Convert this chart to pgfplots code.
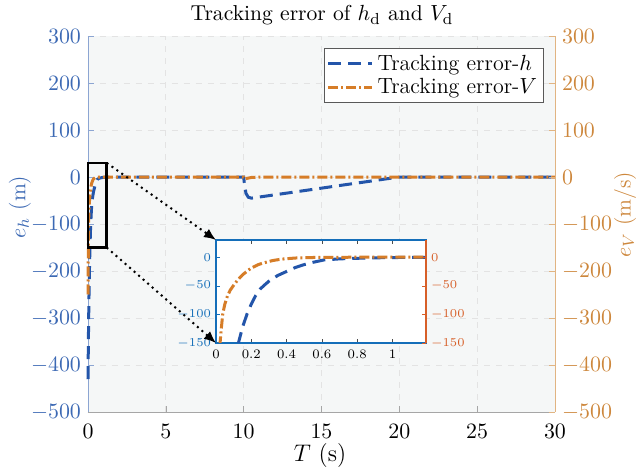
\documentclass[border=0pt]{standalone}
\usepackage{pgfplots}
\usepackage{pgfplotstable}
\pgfplotsset{compat=1.18}
\usetikzlibrary{arrows.meta}

\definecolor{hblue}{RGB}{35,85,170}
\definecolor{vorange}{RGB}{214,125,40}
\definecolor{lefttick}{RGB}{60,105,180}
\definecolor{righttick}{RGB}{205,135,60}
\definecolor{leftline}{RGB}{140,165,210}
\definecolor{rightline}{RGB}{225,180,130}
\definecolor{bgc}{RGB}{245,247,247}
\definecolor{insblue}{RGB}{20,110,185}
\definecolor{insorange}{RGB}{215,95,40}

% altitude tracking error e_h (m)
\pgfplotstableread{
t eh
0 -430
0.02 -364
0.04 -308
0.06 -261
0.08 -221
0.10 -187
0.127 -150
0.15 -123
0.175 -100
0.2 -82
0.225 -67
0.25 -56
0.27 -50
0.3 -42
0.35 -32
0.4 -25
0.45 -18
0.5 -13
0.55 -9
0.61 -5
0.7 -3
0.8 -2
0.9 -1.2
1.0 -0.7
1.1 -0.4
1.2 -0.2
1.5 0
10 0
10.05 -15
10.15 -35
10.3 -43
10.5 -45
11 -42.6
12 -37.9
13 -33.2
14 -28.4
15 -23.7
16 -18.9
17 -14.2
18 -9.5
19 -4.7
20 0
30 0
}\ehdata

% velocity tracking error e_V (m/s)
\pgfplotstableread{
t ev
0 -250
0.01 -205
0.023 -150
0.03 -125
0.038 -100
0.05 -82
0.065 -68
0.08 -58
0.098 -50
0.12 -41
0.15 -31
0.174 -25
0.2 -19
0.24 -13
0.27 -10
0.32 -6
0.37 -3.5
0.45 -1.5
0.55 -0.6
0.7 -0.2
1 0
10 0
10.05 -4
10.2 -3
10.5 -1
11 0
30 0
}\evdata

\tikzset{
  hstyle/.style={hblue, line width=1.5pt, dash pattern=on 6.5pt off 3.5pt},
  vstyle/.style={vorange, line width=1.5pt, dash pattern=on 5pt off 1.5pt on 1pt off 1.5pt},
}

\begin{document}
\begin{tikzpicture}
\useasboundingbox (-44pt,-31.5pt) rectangle (275pt,206pt);

% main axis, left scale
\begin{axis}[
  at={(0,0)}, anchor=south west,
  scale only axis, width=233.5pt, height=188pt,
  xmin=0, xmax=30, ymin=-500, ymax=300,
  xtick={0,5,...,30}, ytick={-500,-400,...,300},
  axis x line*=bottom, axis y line*=left,
  tick align=inside, major tick length=3pt,
  x axis line style={gray!70}, y axis line style={leftline},
  xtick style={gray!70}, ytick style={leftline},
  tick label style={font=\fontsize{10.5}{12}\selectfont},
  yticklabel style={lefttick},
  xticklabel style={black, inner sep=0pt, yshift=-6pt},
  grid=major, grid style={dashed, gray!22, line width=0.4pt},
  axis background/.style={fill=bgc},
  clip=false,
  title={Tracking error of $h_\mathrm{d}$ and $V_\mathrm{d}$},
  every axis title/.style={at={(axis description cs:0.501,1.055)}, anchor=center, font=\fontsize{10.8}{12}\selectfont},
  xlabel={$T$ (s)},
  every axis x label/.style={at={(axis description cs:0.497,-0.116)}, anchor=center, inner sep=0pt, font=\fontsize{12}{14}\selectfont},
  ylabel={$e_h$ (m)},
  every axis y label/.style={at={(axis description cs:-0.146,0.545)}, anchor=center, rotate=90, lefttick, font=\fontsize{11}{13}\selectfont},
  legend style={at={(axis description cs:0.976,0.968)}, anchor=north east,
    draw=gray!70!black, fill=white, font=\fontsize{11}{12}\selectfont,
    row sep=-1.5pt, inner sep=1.2pt, nodes={inner xsep=2pt}},
  legend cell align=left,
  legend image code/.code={\draw[#1] (0pt,0pt) -- (22pt,0pt);},
]
\addplot[hstyle] table[x=t, y=eh] {\ehdata};
\addlegendentry{Tracking error-$h$}
\addplot[vstyle] table[x=t, y=ev] {\evdata};
\addlegendentry{Tracking error-$V$}
% zoomed region
\draw[black, line width=1.2pt] (axis cs:0,30) rectangle (axis cs:1.2,-150);
\coordinate (zTR) at (axis cs:1.2,30);
\coordinate (zBR) at (axis cs:1.2,-150);
\end{axis}

% main axis, right scale
\begin{axis}[
  at={(0,0)}, anchor=south west,
  scale only axis, width=233.5pt, height=188pt,
  xmin=0, xmax=30, ymin=-500, ymax=300,
  ytick={-500,-400,...,300},
  axis x line=none, axis y line*=right,
  tick align=inside, major tick length=3pt,
  y axis line style={rightline}, ytick style={rightline},
  tick label style={font=\fontsize{10.5}{12}\selectfont},
  yticklabel style={righttick},
  ylabel={$e_V$ (m/s)},
  every axis y label/.style={at={(axis description cs:1.15,0.524)}, anchor=center, rotate=90, righttick, font=\fontsize{11}{13}\selectfont},
]
\end{axis}

% inset, left scale
\begin{axis}[
  at={(64pt,34.5pt)}, anchor=south west,
  scale only axis, width=105pt, height=51.5pt,
  xmin=0, xmax=1.19, ymin=-150, ymax=30,
  xtick={0,0.2,0.4,0.6,0.8,1}, ytick={-150,-100,-50,0},
  xticklabels={0,0.2,0.4,0.6,0.8,1},
  tick align=inside, major tick length=2pt,
  ytick pos=left,
  x axis line style={gray!60!black, line width=0.8pt},
  y axis line style={insblue, line width=0.8pt},
  xtick style={gray!60!black}, ytick style={insblue},
  tick label style={font=\fontsize{6.5}{7}\selectfont},
  yticklabel style={insblue, xshift=1pt},
  xticklabel style={black},
  axis background/.style={fill=white},
]
\addplot[hstyle] table[x=t, y=eh] {\ehdata};
\addplot[vstyle] table[x=t, y=ev] {\evdata};
\coordinate (iTL) at (rel axis cs:0,1);
\coordinate (iBL) at (rel axis cs:0,0);
\end{axis}

% inset, right scale
\begin{axis}[
  at={(64pt,34.5pt)}, anchor=south west,
  scale only axis, width=105pt, height=51.5pt,
  xmin=0, xmax=1.19, ymin=-150, ymax=30,
  ytick={-150,-100,-50,0},
  axis x line=none, axis y line*=right,
  tick align=inside, major tick length=2pt,
  y axis line style={insorange, line width=0.8pt}, ytick style={insorange},
  tick label style={font=\fontsize{6.5}{7}\selectfont},
  yticklabel style={insorange, xshift=-1pt},
]
\end{axis}

% pointers from the zoom box to the inset
\draw[black, line width=1pt, dotted, -{Latex[length=6pt,width=5pt]}] (zTR) -- (iTL);
\draw[black, line width=1pt, dotted, -{Latex[length=6pt,width=5pt]}] (zBR) -- (iBL);
\end{tikzpicture}
\end{document}
